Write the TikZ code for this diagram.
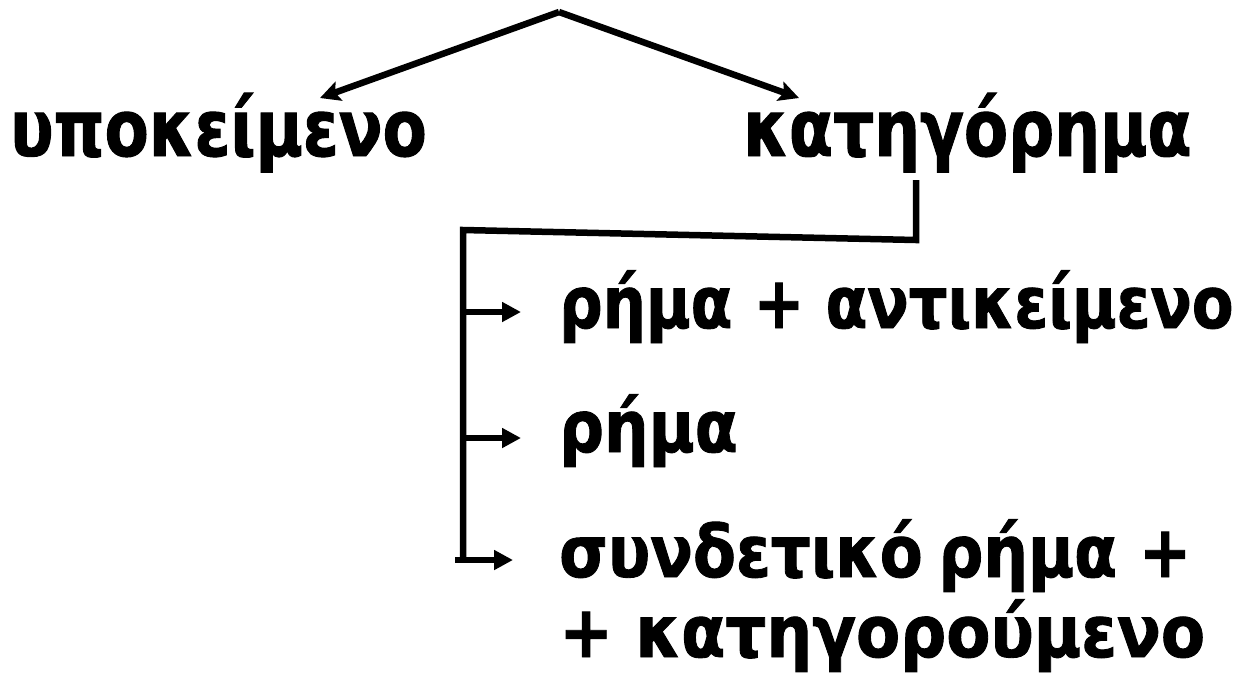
\documentclass[tikz,border=0pt]{standalone}
\usepackage{graphicx}
\usepackage{fontspec}
\newfontfamily\headfont{DejaVu Sans}[FakeStretch=0.815,FakeBold=1.2]
\newfontfamily\itemfont{DejaVu Sans}[FakeStretch=0.87,FakeBold=1.2]
\newcommand{\widthfit}[2]{\scalebox{#1}[1]{#2}}
\usetikzlibrary{arrows.meta}
\begin{document}
\begin{tikzpicture}[x=1pt,y=-1pt,
  big/.style={anchor=base west,inner sep=0pt,font=\headfont\fontsize{79}{90}\selectfont\bfseries},
  small/.style={anchor=base west,inner sep=0pt,font=\itemfont\fontsize{72}{84}\selectfont\bfseries},
  link/.style={line width=6.5pt},
  toptip/.style={-{Stealth[length=20pt,width=20pt,inset=4pt]}},
  sidetip/.style={-{Triangle[length=19pt,width=19pt]}}]
\useasboundingbox (0,0) rectangle (1246,681);

% labels
\node[big] (sub) at (10,156) {υποκείμενο};
\node[big] (pred) at (743,156) {κατηγόρημα};
\node[small] (r1) at (559,328) {\widthfit{0.97}{ρήμα + αντικείμενο}};
\node[small] (r2) at (559,452) {ρήμα};
\node[small] (r3a) at (559,577) {συνδετικό\hspace{-6pt} ρήμα +};
\node[small] (r3b) at (559,657) {\widthfit{1.027}{+ κατηγορούμενο}};

% split from the top
\coordinate (apex) at (559,12);
\coordinate (subtip) at (320,98);
\coordinate (predtip) at (799,98);
\draw[link,toptip] (apex) -- (subtip);
\draw[link,toptip] (apex) -- (predtip);

% bracket under the predicate
\coordinate (stem) at (916,180);
\coordinate (bend) at (916,240);
\coordinate (corner) at (463,230);
\coordinate (foot) at (463,562);
\draw[link] (stem) -- (bend) -- (corner) -- (foot);

% branches
\coordinate (b1) at (463,312);
\coordinate (t1) at (521,312);
\coordinate (b2) at (463,438);
\coordinate (t2) at (521,438);
\coordinate (b3) at (455,560);
\coordinate (t3) at (513,560);
\draw[link,sidetip] (b1) -- (t1);
\draw[link,sidetip] (b2) -- (t2);
\draw[link,sidetip] (b3) -- (t3);
\end{tikzpicture}
\end{document}
